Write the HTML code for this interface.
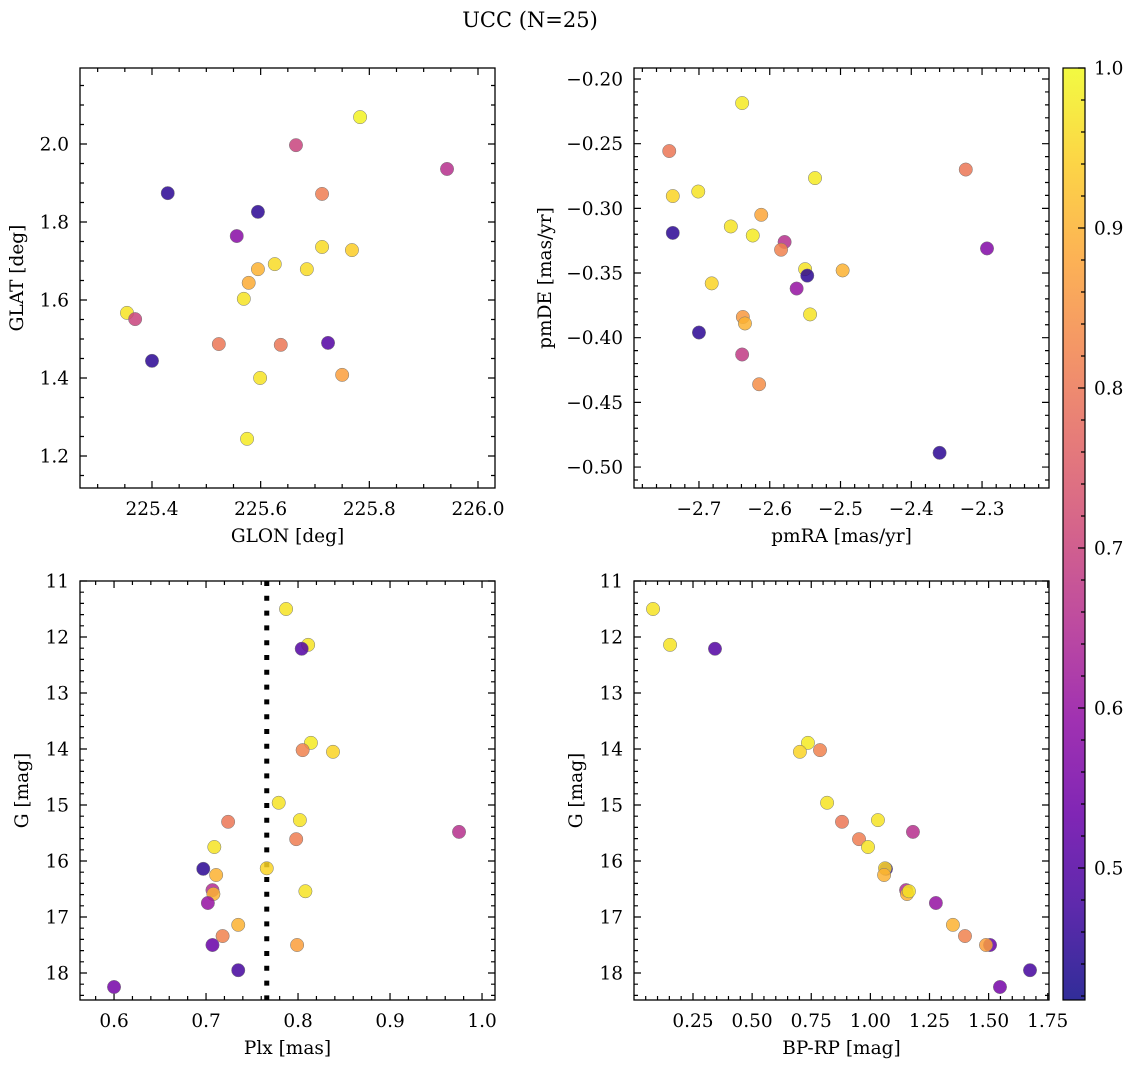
<!DOCTYPE html>
<html><head><meta charset="utf-8"><style>
body{margin:0;background:#fff;}
svg{display:block;font-family:"DejaVu Serif","Liberation Serif",serif;}
</style></head><body>
<svg id="fig" width="1136" height="1068"></svg>
<script>
// ---- data ----
const p1Glon=[225.783,225.665,225.943,225.429,225.713,225.595,225.556,225.713,225.768,225.626,225.595,225.685,225.578,225.569,225.354,225.369,225.400,225.523,225.637,225.724,225.750,225.599,225.575];
const p1Glat=[2.069,1.997,1.936,1.874,1.872,1.826,1.764,1.736,1.728,1.692,1.679,1.679,1.644,1.603,1.567,1.551,1.444,1.487,1.485,1.490,1.408,1.400,1.244];
const p1Prob=[0.99,0.70,0.66,0.45,0.81,0.45,0.58,0.96,0.94,0.96,0.90,0.96,0.89,0.97,0.97,0.70,0.45,0.80,0.80,0.50,0.87,0.97,0.98];
const p2Pmra=[-2.639,-2.742,-2.323,-2.737,-2.701,-2.536,-2.612,-2.655,-2.624,-2.737,-2.579,-2.584,-2.293,-2.550,-2.547,-2.497,-2.682,-2.562,-2.638,-2.635,-2.543,-2.700,-2.639,-2.615,-2.360];
const p2Pmde=[-0.2186,-0.2557,-0.270,-0.2905,-0.287,-0.2766,-0.305,-0.314,-0.321,-0.319,-0.326,-0.332,-0.331,-0.347,-0.352,-0.348,-0.358,-0.362,-0.384,-0.389,-0.382,-0.396,-0.413,-0.436,-0.489];
const p2Prob=[0.98,0.80,0.80,0.95,0.97,0.98,0.88,0.97,0.98,0.45,0.66,0.82,0.57,0.97,0.45,0.90,0.95,0.60,0.86,0.90,0.97,0.45,0.68,0.84,0.45];
const plx=[0.787,0.811,0.804,0.814,0.805,0.838,0.779,0.802,0.724,0.975,0.798,0.709,0.697,0.766,0.711,0.707,0.708,0.808,0.702,0.735,0.718,0.707,0.799,0.735,0.600];
const gmag=[11.5,12.14,12.21,13.89,14.02,14.05,14.96,15.27,15.30,15.48,15.61,15.75,16.14,16.13,16.25,16.52,16.59,16.54,16.75,17.14,17.34,17.50,17.50,17.95,18.25];
const bprp=[0.081,0.153,0.343,0.736,0.787,0.702,0.817,1.032,0.880,1.180,0.952,0.990,1.066,1.062,1.058,1.151,1.155,1.163,1.277,1.349,1.400,1.506,1.489,1.675,1.548];
const prob=[0.97,0.97,0.50,0.98,0.82,0.95,0.97,0.97,0.80,0.66,0.81,0.97,0.45,0.95,0.90,0.65,0.90,0.97,0.60,0.90,0.82,0.53,0.87,0.48,0.55];
const plxMedian=0.766;
const cbMin=0.4175, cbMax=1.0;

const NS="http://www.w3.org/2000/svg";
const svg=document.getElementById('fig');
function mk(tag,attrs,parent){const e=document.createElementNS(NS,tag);for(const k in attrs)e.setAttribute(k,attrs[k]);(parent||svg).appendChild(e);return e;}
const stops=["#0d0887","#41049d","#6a00a8","#8f0da4","#b12a90","#cc4778","#e16462","#f2844b","#fca636","#fcce25","#f0f921"];
function hex(h){return [1,3,5].map(i=>parseInt(h.substr(i,2),16));}
function plasma(t){t=Math.max(0,Math.min(1,t));const f=t*10,i=Math.min(9,Math.floor(f)),u=f-i;const a=hex(stops[i]),b=hex(stops[i+1]);return 'rgb('+a.map((v,k)=>Math.round(v+(b[k]-v)*u)).join(',')+')';}
function cmap(v){return plasma((v-cbMin)/(cbMax-cbMin));}
const FS=18.5;

function panel(name,box,xr,yr,xt,xminor,yt,yminor,xlab,ylab,xfmt,yfmt,yoff){
  const [L,T,R,B]=box;
  const g=mk('g',{});
  
  
  const sx=v=>L+(v-xr[0])/(xr[1]-xr[0])*(R-L);
  const sy=v=>T+(v-yr[0])/(yr[1]-yr[0])*(B-T);
  const tk=[];
  for(let v=xminor[0];v<=xminor[1]+1e-9;v+=xminor[2]){const x=sx(v);if(x<L-0.5||x>R+0.5)continue;const maj=xt.some(t=>Math.abs(t-v)<1e-6);const l=maj?7:4;tk.push(`M${x},${B}v${-l}M${x},${T}v${l}`);}
  for(let v=yminor[0];v<=yminor[1]+1e-9;v+=yminor[2]){const y=sy(v);if(y<T-0.5||y>B+0.5)continue;const maj=yt.some(t=>Math.abs(t-v)<1e-6);const l=maj?7:4;tk.push(`M${L},${y}h${l}M${R},${y}h${-l}`);}
  const tp=mk('path',{d:tk.join(''),stroke:'#000','stroke-width':1.2,fill:'none'},g);
  
  
  xt.forEach(v=>{const t=mk('text',{x:sx(v),y:B+27,'font-size':FS,'text-anchor':'middle'},g);t.textContent=xfmt(v);
    
    });
  yt.forEach(v=>{const t=mk('text',{x:L-11,y:sy(v)+6.5,'font-size':FS,'text-anchor':'end'},g);t.textContent=yfmt(v);
    
    });
  const xl=mk('text',{x:(L+R)/2,y:B+54,'font-size':FS,'text-anchor':'middle'},g);xl.textContent=xlab;
  
  
  const yl=mk('text',{x:0,y:0,'font-size':FS,'text-anchor':'middle',transform:`translate(${L-yoff},${(T+B)/2}) rotate(-90)`},g);yl.textContent=ylab;
  
  
  return {g,sx,sy,box,frame:()=>{const f=mk('rect',{x:L,y:T,width:R-L,height:B-T,fill:'none',stroke:'#000','stroke-width':1.3},g);
    
    }};
}
function scatter(p,xs,ys,cs){
  xs.forEach((xv,i)=>{const c=mk('circle',{cx:p.sx(xv),cy:p.sy(ys[i]),r:6.7,fill:cmap(cs[i]),'fill-opacity':0.85,stroke:'#777','stroke-width':0.5},p.g);
    
    });
}
const f1=v=>v.toFixed(1), f2=v=>(v<0?'\u2212':'')+Math.abs(v).toFixed(2), f1m=v=>(v<0?'\u2212':'')+Math.abs(v).toFixed(1), fi=v=>String(v);

const p1=panel('glon-glat-panel',[80,68,495,488],[225.2675,226.0313],[2.1949,1.1179],[225.4,225.6,225.8,226.0],[225.25,226.05,0.05],[1.2,1.4,1.6,1.8,2.0],[1.1,2.2,0.05],'GLON [deg]','GLAT [deg]',f1,f1,57);
scatter(p1,p1Glon,p1Glat,p1Prob);p1.frame();
const p2=panel('pm-panel',[634,68,1049,488],[-2.7918,-2.2054],[-0.1915,-0.5162],[-2.7,-2.6,-2.5,-2.4,-2.3],[-2.8,-2.2,0.02],[-0.2,-0.25,-0.3,-0.35,-0.4,-0.45,-0.5],[-0.52,-0.19,0.01],'pmRA [mas/yr]','pmDE [mas/yr]',f1m,f2,83);
scatter(p2,p2Pmra,p2Pmde,p2Prob);p2.frame();
const p3=panel('plx-g-panel',[80,581,495,1000],[0.5630,1.0141],[11,18.482],[0.6,0.7,0.8,0.9,1.0],[0.56,1.02,0.02],[11,12,13,14,15,16,17,18],[11,18.4,0.2],'Plx [mas]','G [mag]',f1,fi,52);
const ml=mk('line',{x1:p3.sx(plxMedian),x2:p3.sx(plxMedian),y1:581,y2:1000,stroke:'#000','stroke-width':5,'stroke-dasharray':'5 9.8'},p3.g);


scatter(p3,plx,gmag,prob);p3.frame();
const p4=panel('cmd-panel',[634,581,1049,1000],[0.0005,1.7553],[11,18.482],[0.25,0.5,0.75,1.0,1.25,1.5,1.75],[0.05,1.75,0.05],[11,12,13,14,15,16,17,18],[11,18.4,0.2],'BP-RP [mag]','G [mag]',f2,fi,52);
scatter(p4,bprp,gmag,prob);p4.frame();

// colorbar
const cb=mk('g',{});


const defs=mk('defs',{},cb);const lg=mk('linearGradient',{id:'cg',x1:0,y1:1,x2:0,y2:0},defs);
for(let i=0;i<=20;i++){const v=cbMin+(cbMax-cbMin)*i/20;mk('stop',{offset:i/20,'stop-color':cmap(v),'stop-opacity':0.85},lg);}
const CT=68,CB=1000,CL=1063,CR=1085;
const cy=v=>CB-(v-cbMin)/(cbMax-cbMin)*(CB-CT);
mk('rect',{x:CL,y:CT,width:CR-CL,height:CB-CT,fill:'url(#cg)',stroke:'#000','stroke-width':1.2},cb);
let d='';
for(let v=0.42;v<=1.0001;v+=0.02){const maj=Math.abs(v*10-Math.round(v*10))<1e-6;d+=`M${CR},${cy(v)}h${maj?-7:-4}`;}
mk('path',{d,stroke:'#000','stroke-width':1.2},cb);
[0.5,0.6,0.7,0.8,0.9,1.0].forEach(v=>{const t=mk('text',{x:1094,y:cy(v)+6.5,'font-size':FS},cb);t.textContent=v.toFixed(1);
  
  });
const title=mk('text',{x:530,y:27,'font-size':21,'text-anchor':'middle'});title.textContent='UCC (N=25)';


</script>
</body></html>
